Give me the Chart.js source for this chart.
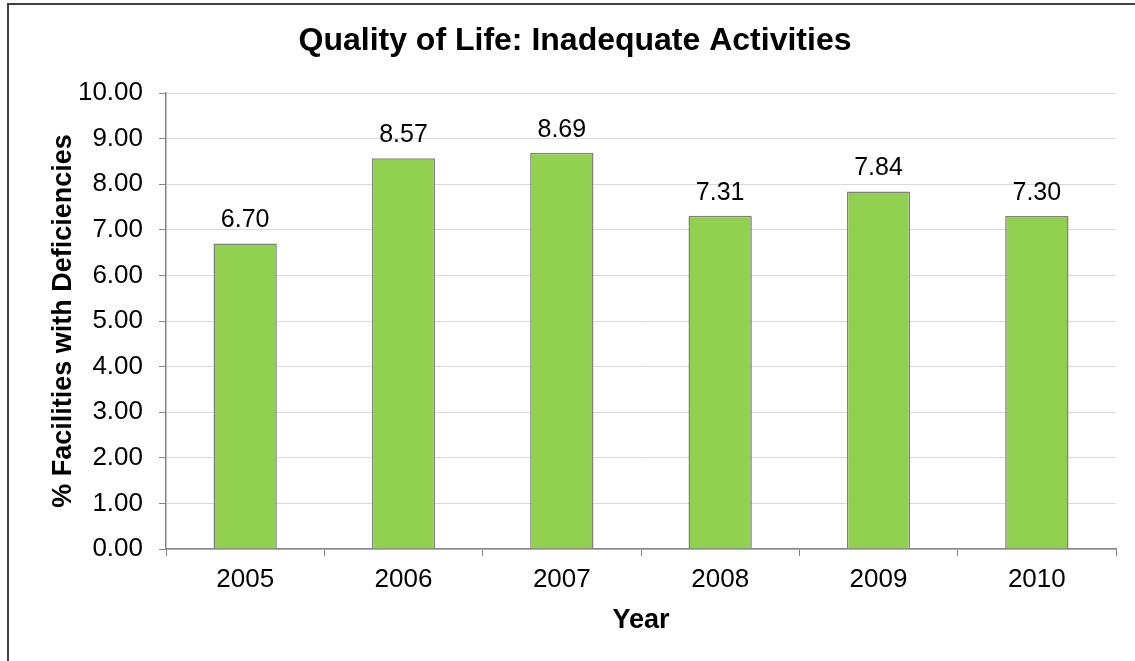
<!DOCTYPE html>
<html>
<head>
<meta charset="utf-8">
<script src="https://cdn.jsdelivr.net/npm/chart.js@4/dist/chart.umd.min.js"></script>
<style>
  html, body { margin: 0; padding: 0; background: #fff; overflow: hidden; }
  #wrap { width: 1135px; height: 661px; position: relative; }
</style>
</head>
<body>
<div id="wrap"><canvas id="chart" width="1135" height="661"></canvas></div>
<script>
const years = ['2005', '2006', '2007', '2008', '2009', '2010'];
const deficiencyPct = [6.70, 8.57, 8.69, 7.31, 7.84, 7.30];
const yMin = 0;
const yMax = 10;
const yStep = 1;

const FONT = "'Liberation Sans', Arial, sans-serif";

// value labels above each bar
const barLabels = {
  id: 'barLabels',
  afterDatasetsDraw(chart) {
    const ctx = chart.ctx;
    const meta = chart.getDatasetMeta(0);
    ctx.save();
    ctx.font = '25px ' + FONT;
    ctx.fillStyle = '#000';
    ctx.textAlign = 'center';
    ctx.textBaseline = 'middle';
    meta.data.forEach((bar, i) => {
      ctx.fillText(deficiencyPct[i].toFixed(2), bar.x, bar.y - 23);
    });
    ctx.restore();
  }
};

// white background plus the frame on top and left
const frame = {
  id: 'frame',
  beforeDraw(chart) {
    const ctx = chart.ctx;
    ctx.save();
    ctx.fillStyle = '#fff';
    ctx.fillRect(0, 0, chart.width, chart.height);
    ctx.restore();
  },
  afterDraw(chart) {
    const ctx = chart.ctx;
    ctx.save();
    ctx.strokeStyle = '#404040';
    ctx.lineWidth = 2;
    ctx.beginPath();
    ctx.moveTo(8, chart.height);
    ctx.lineTo(8, 4);
    ctx.lineTo(chart.width, 4);
    ctx.stroke();
    ctx.restore();
  }
};

new Chart(document.getElementById('chart'), {
  type: 'bar',
  data: {
    labels: years,
    datasets: [{
      data: deficiencyPct,
      backgroundColor: '#92D050',
      borderColor: '#808080',
      borderWidth: 1.5,
      borderSkipped: 'start',
      categoryPercentage: 1,
      barPercentage: 0.4
    }]
  },
  options: {
    responsive: false,
    animation: false,
    layout: { padding: { left: 34, right: 19, top: 0, bottom: 0 } },
    plugins: {
      legend: { display: false },
      tooltip: { enabled: false },
      title: {
        display: true,
        text: 'Quality of Life: Inadequate Activities',
        color: '#000',
        font: { family: FONT, size: 32, weight: 'bold' },
        padding: { top: 22, bottom: 32.6 }
      }
    },
    scales: {
      x: {
        offset: true,
        grid: {
          offset: true,
          drawOnChartArea: false,
          drawTicks: true,
          tickLength: 7,
          tickColor: '#868686'
        },
        border: { display: true, color: '#868686', width: 1.5 },
        ticks: {
          color: '#000',
          font: { family: FONT, size: 26 },
          padding: 8
        },
        title: {
          display: true,
          text: 'Year',
          color: '#000',
          font: { family: FONT, size: 27, weight: 'bold' },
          padding: { top: 0, bottom: 24 }
        },
        afterFit(scale) { scale.height = 112; }
      },
      y: {
        min: yMin,
        max: yMax,
        grid: {
          color: '#d9d9d9',
          lineWidth: 1,
          tickLength: 7,
          tickColor: '#868686'
        },
        border: { display: true, color: '#868686', width: 1.5 },
        ticks: {
          stepSize: yStep,
          color: '#000',
          font: { family: FONT, size: 26 },
          padding: 16,
          callback: v => v.toFixed(2)
        },
        title: {
          display: true,
          text: '% Facilities with Deficiencies',
          color: '#000',
          font: { family: FONT, size: 27, weight: 'bold' },
          padding: { top: 13, bottom: 0 }
        },
        afterFit(scale) { scale.width = 132; }
      }
    }
  },
  plugins: [frame, barLabels]
});
</script>
</body>
</html>
